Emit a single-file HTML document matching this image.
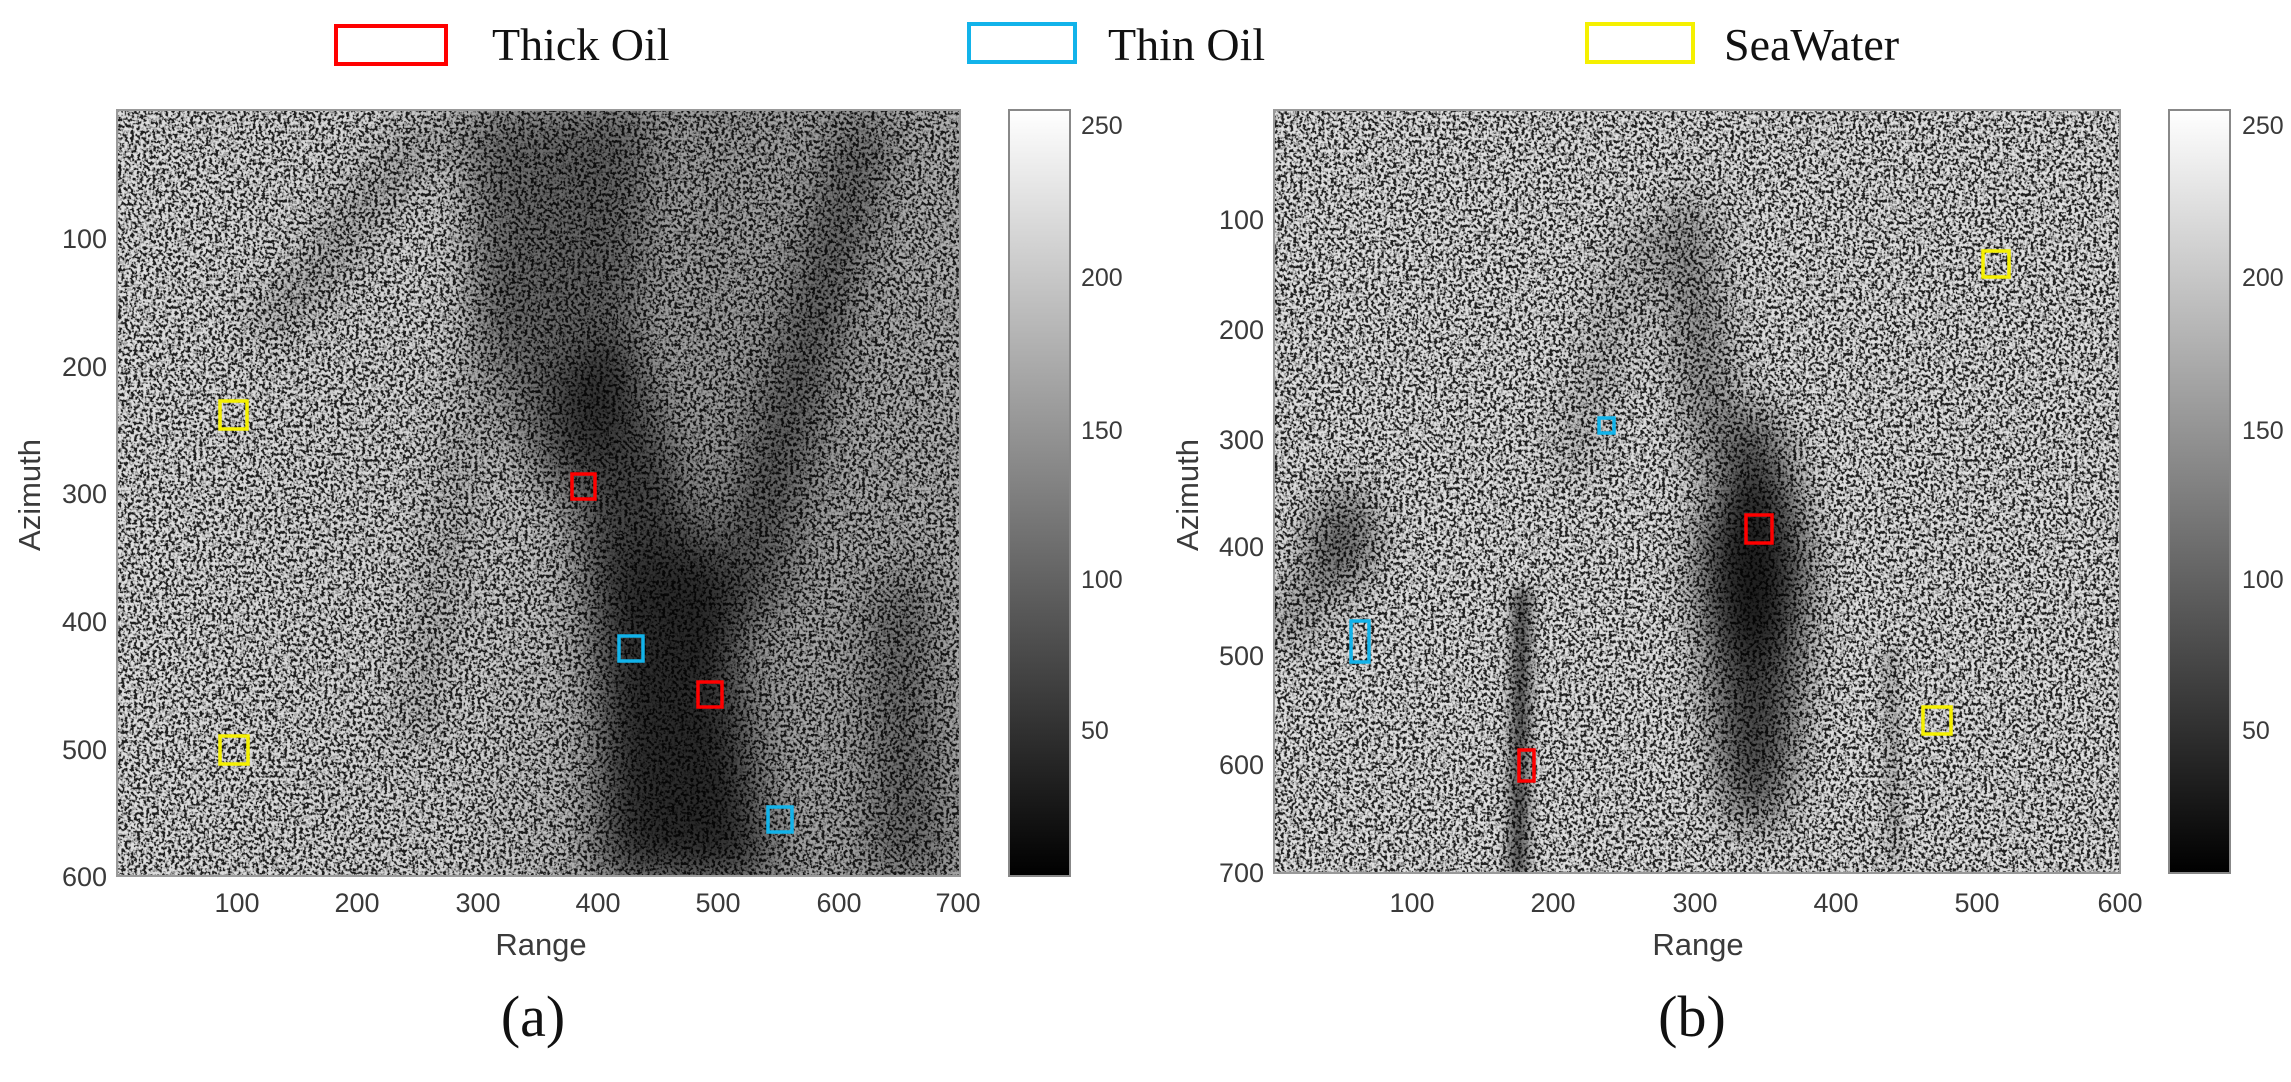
<!DOCTYPE html>
<html><head><meta charset="utf-8"><style>
html,body{margin:0;padding:0;background:#fff;}
svg{display:block;}
</style></head><body>
<svg width="2291" height="1082" viewBox="0 0 2291 1082" xmlns="http://www.w3.org/2000/svg">
<defs>
<filter id="noise" x="0" y="0" width="100%" height="100%">
<feTurbulence type="fractalNoise" baseFrequency="0.32" numOctaves="2" seed="3"/>
<feColorMatrix type="matrix" values="5 0 0 0 -2.0  5 0 0 0 -2.0  5 0 0 0 -2.0  0 0 0 0 0.75"/>
</filter>
<filter id="bl" x="-50%" y="-50%" width="200%" height="200%"><feGaussianBlur stdDeviation="22"/></filter>
<filter id="bl2" x="-50%" y="-50%" width="200%" height="200%"><feGaussianBlur stdDeviation="7"/></filter>
<clipPath id="ca"><rect x="117" y="110" width="843" height="766"/></clipPath>
<clipPath id="cb"><rect x="1274" y="110" width="846" height="763"/></clipPath>
<linearGradient id="cg" x1="0" y1="0" x2="0" y2="1">
<stop offset="0" stop-color="#fff"/><stop offset="1" stop-color="#000"/></linearGradient>
<linearGradient id="ra" x1="0" y1="0" x2="1" y2="0">
<stop offset="0" stop-color="#000" stop-opacity="0"/><stop offset="0.4" stop-color="#000" stop-opacity="0.05"/><stop offset="0.7" stop-color="#000" stop-opacity="0.3"/><stop offset="1" stop-color="#000" stop-opacity="0.2"/></linearGradient>
</defs>

<g font-family="Liberation Serif, serif" font-size="46" fill="#111">
<rect x="336" y="26" width="110" height="38" fill="none" stroke="#f00" stroke-width="4"/>
<text x="492" y="60">Thick Oil</text>
<rect x="969" y="24" width="106" height="38" fill="none" stroke="#12b3ea" stroke-width="4"/>
<text x="1108" y="60">Thin Oil</text>
<rect x="1587" y="24" width="106" height="38" fill="none" stroke="#f5f000" stroke-width="4"/>
<text x="1724" y="60">SeaWater</text>
</g>

<!-- Panel a -->
<g clip-path="url(#ca)">
<rect x="117" y="110" width="843" height="766" fill="#7c7c7c"/>
<rect x="117" y="110" width="843" height="766" filter="url(#noise)"/>
<rect x="117" y="110" width="843" height="766" fill="url(#ra)"/>
<g filter="url(#bl)" fill="#000">
<polygon points="460,110 650,110 640,300 600,450 560,500 520,450 480,300" opacity="0.45"/>
<polygon points="560,380 630,330 720,600 760,876 615,876 595,650" opacity="0.6"/>
<polygon points="845,115 890,130 780,600 720,660 700,600" opacity="0.45"/>
<polygon points="870,600 925,560 950,876 870,876" opacity="0.4"/>
<path d="M440,125 Q360,200 330,260 Q300,300 260,330" stroke="#000" stroke-width="30" fill="none" opacity="0.35"/>
<path d="M495,260 L415,740" stroke="#000" stroke-width="18" fill="none" opacity="0.4"/>
<polygon points="610,560 720,540 780,876 590,876" opacity="0.35"/>
</g>
</g>
<rect x="117" y="110" width="843" height="766" fill="none" stroke="#999" stroke-width="2"/>
<g fill="none" stroke-width="3.5">
<rect x="220" y="401" width="27" height="28" stroke="#f5f000"/>
<rect x="220" y="736" width="28" height="28" stroke="#f5f000"/>
<rect x="572" y="474" width="23" height="25" stroke="#f00"/>
<rect x="698" y="682" width="24" height="25" stroke="#f00"/>
<rect x="619" y="636" width="24" height="25" stroke="#12b3ea"/>
<rect x="768" y="807" width="24" height="25" stroke="#12b3ea"/>
</g>
<g font-family="Liberation Sans, sans-serif" font-size="27" fill="#3a3a3a">
<g text-anchor="end">
<text x="107" y="248">100</text><text x="107" y="376">200</text><text x="107" y="503">300</text>
<text x="107" y="631">400</text><text x="107" y="759">500</text><text x="107" y="886">600</text>
</g>
<g text-anchor="middle">
<text x="237" y="912">100</text><text x="357" y="912">200</text><text x="478" y="912">300</text>
<text x="598" y="912">400</text><text x="718" y="912">500</text><text x="839" y="912">600</text><text x="958" y="912">700</text>
<text x="541" y="955" font-size="31">Range</text>
<text transform="translate(40,495) rotate(-90)" font-size="31">Azimuth</text>
</g>
</g>
<rect x="1009" y="110" width="61" height="766" fill="url(#cg)" stroke="#888" stroke-width="2"/>
<g font-family="Liberation Sans, sans-serif" font-size="25" fill="#3a3a3a">
<text x="1081" y="134">250</text><text x="1081" y="286">200</text><text x="1081" y="439">150</text>
<text x="1081" y="588">100</text><text x="1081" y="739">50</text>
</g>
<text x="533" y="1036" font-family="Liberation Serif, serif" font-size="58" text-anchor="middle" fill="#111">(a)</text>

<!-- Panel b -->
<g clip-path="url(#cb)">
<rect x="1274" y="110" width="846" height="763" fill="#7e7e7e"/>
<rect x="1274" y="110" width="846" height="763" filter="url(#noise)"/>
<g filter="url(#bl)" fill="#000">
<ellipse cx="1755" cy="620" rx="45" ry="210" opacity="0.7"/>
<ellipse cx="1752" cy="570" rx="55" ry="90" opacity="0.55"/>
<polygon points="1660,230 1700,190 1735,430 1700,480" opacity="0.45"/>
<path d="M1570,470 L1640,230" stroke="#000" stroke-width="20" fill="none" opacity="0.4"/>
<ellipse cx="1345" cy="540" rx="26" ry="50" opacity="0.5"/>
<path d="M1285,640 Q1320,580 1350,500" stroke="#000" stroke-width="34" fill="none" opacity="0.4"/>
</g>
<g filter="url(#bl2)">
<path d="M1522,590 L1518,876" stroke="#000" stroke-width="16" fill="none" opacity="0.7"/>
<path d="M1890,650 L1895,860" stroke="#000" stroke-width="10" fill="none" opacity="0.3"/>
</g>
</g>
<rect x="1274" y="110" width="846" height="763" fill="none" stroke="#999" stroke-width="2"/>
<g fill="none" stroke-width="3.5">
<rect x="1983" y="251" width="26" height="26" stroke="#f5f000"/>
<rect x="1923" y="707" width="28" height="27" stroke="#f5f000"/>
<rect x="1746" y="515" width="26" height="28" stroke="#f00"/>
<rect x="1519" y="750" width="15" height="31" stroke="#f00"/>
<rect x="1599" y="418" width="15" height="15" stroke="#12b3ea"/>
<rect x="1351" y="621" width="18" height="41" stroke="#12b3ea"/>
</g>
<g font-family="Liberation Sans, sans-serif" font-size="27" fill="#3a3a3a">
<g text-anchor="end">
<text x="1264" y="229">100</text><text x="1264" y="339">200</text><text x="1264" y="449">300</text>
<text x="1264" y="556">400</text><text x="1264" y="665">500</text><text x="1264" y="774">600</text><text x="1264" y="882">700</text>
</g>
<g text-anchor="middle">
<text x="1412" y="912">100</text><text x="1553" y="912">200</text><text x="1695" y="912">300</text>
<text x="1836" y="912">400</text><text x="1977" y="912">500</text><text x="2120" y="912">600</text>
<text x="1698" y="955" font-size="31">Range</text>
<text transform="translate(1198,495) rotate(-90)" font-size="31">Azimuth</text>
</g>
</g>
<rect x="2169" y="110" width="61" height="763" fill="url(#cg)" stroke="#888" stroke-width="2"/>
<g font-family="Liberation Sans, sans-serif" font-size="25" fill="#3a3a3a">
<text x="2242" y="134">250</text><text x="2242" y="286">200</text><text x="2242" y="439">150</text>
<text x="2242" y="588">100</text><text x="2242" y="739">50</text>
</g>
<text x="1692" y="1036" font-family="Liberation Serif, serif" font-size="58" text-anchor="middle" fill="#111">(b)</text>
</svg>
</body></html>
